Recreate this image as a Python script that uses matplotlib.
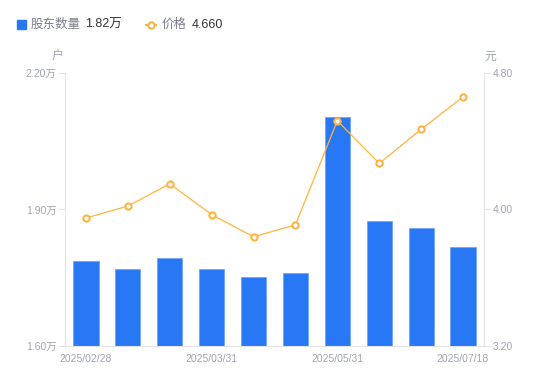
import matplotlib.pyplot as plt
from matplotlib.patches import Rectangle
from matplotlib.lines import Line2D

plt.rcParams['font.family'] = ['Liberation Sans', 'Noto Sans CJK SC', 'DejaVu Sans']

dates = ['2025/02/28', '2025/03/10', '2025/03/20', '2025/03/31', '2025/04/10',
         '2025/04/30', '2025/05/31', '2025/06/10', '2025/06/30', '2025/07/18']
holders = [1.787, 1.770, 1.793, 1.769, 1.752, 1.760, 2.103, 1.874, 1.859, 1.818]  # 万户
price = [3.95, 4.02, 4.15, 3.97, 3.84, 3.91, 4.52, 4.27, 4.47, 4.66]
left_ticks = [1.60, 1.90, 2.20]
right_ticks = [3.20, 4.00, 4.80]

blue = '#2878F5'
orange = '#FFB43C'
grey_txt = '#a0a3b3'
axis_col = '#e3e3e8'

fig = plt.figure(figsize=(5.5, 3.81), dpi=100)
ax1 = fig.add_axes([0.1182, 0.0919, 0.7618, 0.7165])
x = list(range(len(dates)))

ax1.bar(x, holders, width=0.6, color=blue, edgecolor='#6fa5f7', linewidth=0.6, zorder=2)
ax1.set_ylim(left_ticks[0], left_ticks[-1])
ax1.set_xlim(-0.5, len(dates) - 0.5)
ax1.set_yticks(left_ticks)
ax1.set_yticklabels([f'{v:.2f}万' for v in left_ticks])
ax1.set_xticks(x[::3])
ax1.set_xticklabels(dates[::3])

ax2 = ax1.twinx()
ax2.plot(x, price, color=orange, lw=0.9, marker='o', ms=4.5, mfc='white',
         mec=orange, mew=1.5, zorder=3)
ax2.set_ylim(right_ticks[0], right_ticks[-1])
ax2.set_yticks(right_ticks)
ax2.set_yticklabels([f'{v:.2f}' for v in right_ticks])

for a in (ax1, ax2):
    for s in a.spines.values():
        s.set_visible(False)
    a.tick_params(colors=axis_col, labelcolor=grey_txt, labelsize=7.5, length=4, width=0.8)
ax1.spines['left'].set_visible(True)
ax1.spines['bottom'].set_visible(True)
ax2.spines['right'].set_visible(True)
ax1.spines['left'].set_color(axis_col)
ax1.spines['bottom'].set_color(axis_col)
ax2.spines['right'].set_color(axis_col)
ax1.tick_params(axis='x', length=0, pad=6)
ax1.tick_params(axis='y', pad=2)
ax2.tick_params(axis='y', pad=2)

# unit labels
fig.text(58 / 550, 1 - 57 / 381, '户', color=grey_txt, fontsize=8.5, ha='center', va='center')
fig.text(490 / 550, 1 - 57 / 381, '元', color=grey_txt, fontsize=8.5, ha='center', va='center')

# legend
ly = 1 - 24.5 / 381
fig.patches.append(Rectangle((17 / 550, 1 - 29 / 381), 9 / 550, 9 / 381,
                             transform=fig.transFigure, color=blue))
fig.text(31 / 550, ly, '股东数量', color='#7a7e8c', fontsize=9, va='center')
fig.text(85 / 550, ly, f'{holders[-1]:.2f}万', color='#333333', fontsize=9, va='center')
fig.lines.append(Line2D([146 / 550, 151 / 550, 156 / 550], [ly] * 3, transform=fig.transFigure,
                        color=orange, lw=1.5, marker='o', ms=4.5, mfc='white', mec=orange,
                        mew=1.5, markevery=[1]))
fig.text(162 / 550, ly, '价格', color='#7a7e8c', fontsize=9, va='center')
fig.text(192 / 550, ly, f'{price[-1]:.3f}', color='#333333', fontsize=9, va='center')

fig.savefig('out.png', dpi=100)
